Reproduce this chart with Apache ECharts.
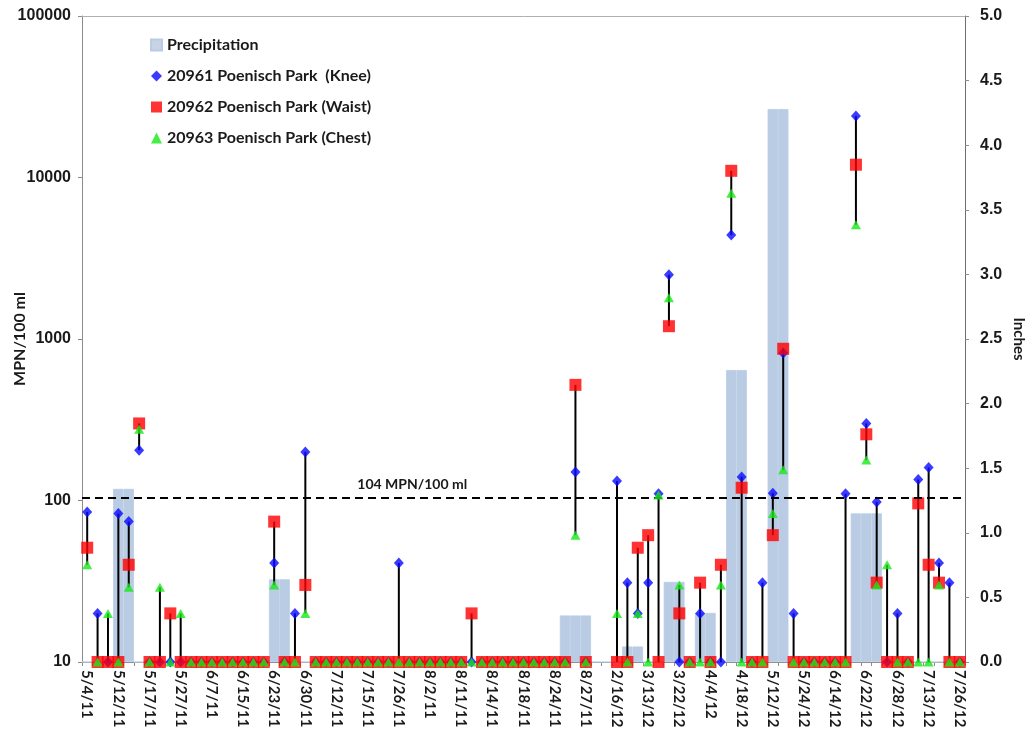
<!DOCTYPE html>
<html>
<head>
<meta charset="utf-8">
<script src="https://cdn.jsdelivr.net/npm/echarts@6/dist/echarts.min.js"></script>
<style>
  html, body { margin: 0; padding: 0; background: #ffffff; }
  #chart { width: 1031px; height: 744px; }
</style>
</head>
<body>
<div id="chart"></div>
<script>
// Sampling-date labels: one label for every third sample column
const tickLabels = ['5/4/11', '5/12/11', '5/17/11', '5/27/11', '6/7/11', '6/15/11', '6/23/11', '6/30/11',
  '7/12/11', '7/15/11', '7/26/11', '8/2/11', '8/11/11', '8/14/11', '8/18/11', '8/24/11', '8/27/11',
  '2/16/12', '3/13/12', '3/22/12', '4/4/12', '4/18/12', '5/12/12', '5/24/12', '6/14/12', '6/22/12',
  '6/28/12', '7/13/12', '7/26/12'];
const sampleCount = 85;

// E. coli results, MPN/100 ml (10 = reporting floor); null = column without a sample
const knee = [
  85, 20, 10, 83, 74, 205, 10, 10, 10, 10,
  10, 10, 10, 10, 10, 10, 10, 10, 41, 10,
  20, 200, 10, 10, 10, 10, 10, 10, 10, 10,
  41, 10, 10, 10, 10, 10, 10, 10, 10, 10,
  10, 10, 10, 10, 10, 10, 10, 150, 10, null,
  null, 132, 31, 20, 31, 110, 2500, 10, 10, 20,
  10, 10, 4400, 140, 10, 31, 111, 820, 20, 10,
  10, 10, 10, 110, 24000, 300, 98, 10, 20, 10,
  135, 160, 41, 31, 10
];
const waist = [
  51, 10, 10, 10, 40, 300, 10, 10, 20, 10,
  10, 10, 10, 10, 10, 10, 10, 10, 74, 10,
  10, 30, 10, 10, 10, 10, 10, 10, 10, 10,
  10, 10, 10, 10, 10, 10, 10, 20, 10, 10,
  10, 10, 10, 10, 10, 10, 10, 520, 10, null,
  null, 10, 10, 51, 61, 10, 1200, 20, 10, 31,
  10, 40, 11000, 120, 10, 10, 61, 870, 10, 10,
  10, 10, 10, 10, 12000, 257, 31, 10, 10, 10,
  96, 40, 31, 10, 10
];
const chest = [
  40, 10, 20, 10, 29, 276, 10, 29, 10, 20,
  10, 10, 10, 10, 10, 10, 10, 10, 30, 10,
  10, 20, 10, 10, 10, 10, 10, 10, 10, 10,
  10, 10, 10, 10, 10, 10, 10, 10, 10, 10,
  10, 10, 10, 10, 10, 10, 10, 61, 10, null,
  null, 20, 10, 20, 10, 108, 1800, 30, 10, 10,
  10, 30, 8000, 10, 10, 10, 83, 155, 10, 10,
  10, 10, 10, 10, 5100, 178, 30, 40, 10, 10,
  10, 10, 30, 10, 10
];
// Rainfall, inches
const precipitation = [
  0, 0, 0, 1.34, 1.34, 0, 0, 0, 0, 0,
  0, 0, 0, 0, 0, 0, 0, 0, 0.64, 0.64,
  0, 0, 0, 0, 0, 0, 0, 0, 0, 0,
  0, 0, 0, 0, 0, 0, 0, 0, 0, 0,
  0, 0, 0, 0, 0, 0, 0.36, 0.36, 0.36, 0,
  0, 0, 0.12, 0.12, 0, 0, 0.62, 0.62, 0, 0.38,
  0.38, 0, 2.26, 2.26, 0, 0, 4.28, 4.28, 0, 0,
  0, 0, 0, 0, 1.15, 1.15, 1.15, 0, 0, 0,
  0, 0, 0, 0, 0
];
const thresholdValue = 104;
const thresholdText = '104 MPN/100 ml';
const thresholdLabelColumn = 31;

const FONT = 'Lato, "Liberation Sans", sans-serif';
const NUM_FONT = '"Liberation Sans", Arial, sans-serif';
const TEXT = '#1a1a1a';
const RAIN = '#b9cce4';

// one category per sample column; only every third one carries a date
const categories = [];
tickLabels.forEach(t => { categories.push(t, '', ''); });
categories.length = sampleCount;

const asSeries = arr => arr.map(v => (v == null ? '-' : v));

// high-low range per column across the three depths
const ranges = [];
for (let i = 0; i < sampleCount; i++) {
  const vals = [knee[i], waist[i], chest[i]].filter(v => v != null);
  if (vals.length) ranges.push([i, Math.min(...vals), Math.max(...vals)]);
}

const chart = echarts.init(document.getElementById('chart'), null, { renderer: 'canvas' });

chart.setOption({
  animation: false,
  backgroundColor: '#ffffff',
  textStyle: { fontFamily: FONT },
  grid: { left: 82, right: 66, top: 16, bottom: 82, containLabel: false, outerBoundsMode: 'none' },
  legend: {
    orient: 'vertical',
    left: 145,
    top: 32,
    itemGap: 15,
    itemWidth: 11,
    itemHeight: 11,
    textStyle: { fontFamily: FONT, fontWeight: 'bold', fontSize: 16, color: TEXT },
    data: [
      { name: 'Precipitation', icon: 'rect', itemStyle: { color: '#c9d3e6' } },
      { name: '20961 Poenisch Park  (Knee)' },
      { name: '20962 Poenisch Park (Waist)' },
      { name: '20963 Poenisch Park (Chest)' }
    ]
  },
  xAxis: [
    {
      type: 'category',
      data: categories,
      boundaryGap: true,
      axisLine: { show: true, lineStyle: { color: '#8c8c8c', width: 1 } },
      axisTick: { show: true, interval: 0, length: 4, lineStyle: { color: '#8c8c8c' } },
      axisLabel: {
        interval: 2,
        rotate: -90,
        margin: 8,
        fontFamily: FONT,
        fontWeight: 'bold',
        fontSize: 15,
        color: TEXT
      },
      splitLine: { show: false }
    },
    {
      type: 'category',
      data: categories,
      position: 'top',
      axisLine: { show: true, lineStyle: { color: '#b0b0b0', width: 1 } },
      axisTick: { show: false },
      axisLabel: { show: false },
      splitLine: { show: false }
    }
  ],
  yAxis: [
    {
      type: 'log',
      logBase: 10,
      min: 10,
      max: 100000,
      name: 'MPN/100 ml',
      nameLocation: 'middle',
      nameGap: 54,
      nameMoveOverlap: false,
      nameTextStyle: { fontFamily: FONT, fontWeight: 'bold', fontSize: 16, color: TEXT },
      axisLine: { show: true, lineStyle: { color: '#8c8c8c' } },
      axisTick: { show: true, length: 4, lineStyle: { color: '#8c8c8c' } },
      axisLabel: {
        fontFamily: NUM_FONT, fontWeight: 'bold', fontSize: 16, color: TEXT, margin: 11,
        formatter: v => String(Math.round(v))
      },
      splitLine: { show: false }
    },
    {
      type: 'value',
      min: 0,
      max: 5,
      interval: 0.5,
      position: 'right',
      name: 'Inches',
      nameLocation: 'middle',
      nameRotate: -90,
      nameGap: 46,
      nameMoveOverlap: false,
      nameTextStyle: { fontFamily: FONT, fontWeight: 'bold', fontSize: 15, color: TEXT },
      axisLine: { show: true, lineStyle: { color: '#6e6e6e' } },
      axisTick: { show: true, length: 4, lineStyle: { color: '#8c8c8c' } },
      axisLabel: {
        fontFamily: NUM_FONT, fontWeight: 'bold', fontSize: 16, color: TEXT, margin: 15,
        formatter: v => v.toFixed(1)
      },
      splitLine: { show: false }
    }
  ],
  series: [
    {
      name: 'Precipitation',
      type: 'bar',
      xAxisIndex: 0,
      yAxisIndex: 1,
      barWidth: '100%',
      barCategoryGap: 0,
      data: precipitation,
      // a hairline border in the fill colour closes the seams between touching columns
      itemStyle: { color: RAIN, borderColor: RAIN, borderWidth: 0.8 },
      z: 1
    },
    {
      name: 'range',
      type: 'custom',
      xAxisIndex: 0,
      yAxisIndex: 0,
      data: ranges,
      encode: { x: 0, y: [1, 2] },
      renderItem: (params, api) => {
        const lo = api.value(1), hi = api.value(2);
        if (!(hi > lo)) return null;
        const a = api.coord([api.value(0), lo]);
        const b = api.coord([api.value(0), hi]);
        return {
          type: 'line',
          shape: { x1: a[0], y1: a[1], x2: b[0], y2: b[1] },
          style: { stroke: '#000000', lineWidth: 2 }
        };
      },
      silent: true,
      z: 2
    },
    {
      name: '20961 Poenisch Park  (Knee)',
      type: 'scatter',
      xAxisIndex: 0,
      yAxisIndex: 0,
      symbol: 'diamond',
      symbolSize: [10, 11],
      itemStyle: { color: '#0a0aff' },
      data: asSeries(knee),
      z: 3,
      markLine: {
        silent: true,
        symbol: 'none',
        lineStyle: { type: [8, 5], color: '#000000', width: 2 },
        label: { show: false },
        data: [{ yAxis: thresholdValue }]
      },
      markPoint: {
        silent: true,
        symbol: 'circle',
        symbolSize: 0,
        label: {
          show: true,
          position: 'top',
          distance: 6,
          offset: [3, 0],
          formatter: thresholdText,
          fontFamily: FONT,
          fontWeight: 'bold',
          fontSize: 14,
          color: TEXT
        },
        data: [{ coord: [thresholdLabelColumn, thresholdValue] }]
      }
    },
    {
      name: '20962 Poenisch Park (Waist)',
      type: 'scatter',
      xAxisIndex: 0,
      yAxisIndex: 0,
      symbol: 'rect',
      symbolSize: 12,
      itemStyle: { color: '#ff0000' },
      data: asSeries(waist),
      z: 4
    },
    {
      name: '20963 Poenisch Park (Chest)',
      type: 'scatter',
      xAxisIndex: 0,
      yAxisIndex: 0,
      symbol: 'triangle',
      symbolSize: [10, 9],
      itemStyle: { color: '#16e816' },
      data: asSeries(chest),
      z: 5
    }
  ]
});
</script>
</body>
</html>
